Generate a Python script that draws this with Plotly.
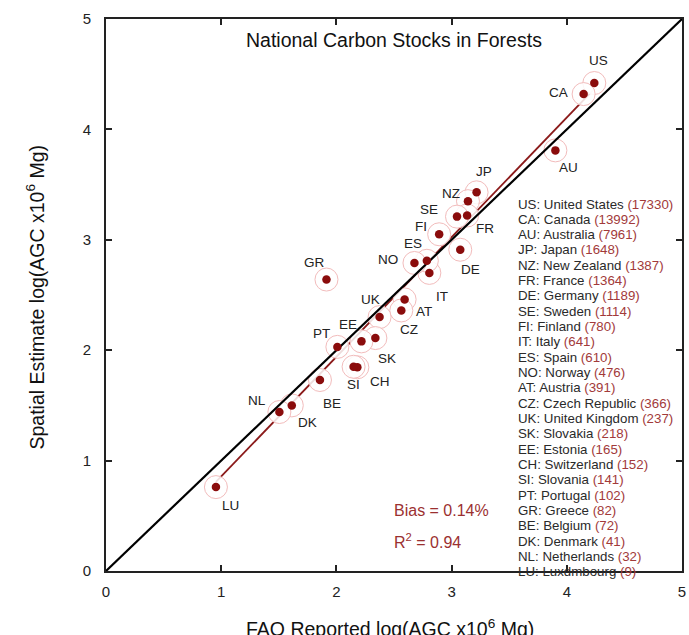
import plotly.graph_objects as go
import numpy as np

# ---- data ----
codes = ["US", "CA", "AU", "JP", "NZ", "FR", "DE", "SE", "FI", "IT", "ES", "NO", "AT",
         "CZ", "UK", "SK", "EE", "CH", "SI", "PT", "GR", "BE", "DK", "NL", "LU"]
names = ["United States", "Canada", "Australia", "Japan", "New Zealand", "France", "Germany",
         "Sweden", "Finland", "Italy", "Spain", "Norway", "Austria", "Czech Republic",
         "United Kingdom", "Slovakia", "Estonia", "Switzerland", "Slovania", "Portugal",
         "Greece", "Belgium", "Denmark", "Netherlands", "Luxdmbourg"]
fao_agc = [17330, 13992, 7961, 1648, 1387, 1364, 1189, 1114, 780, 641, 610, 476, 391,
           366, 237, 218, 165, 152, 141, 102, 82, 72, 41, 32, 9]
spatial_log = [4.42, 4.32, 3.81, 3.43, 3.35, 3.22, 2.91, 3.21, 3.05, 2.70, 2.81, 2.79, 2.46,
               2.36, 2.30, 2.11, 2.08, 1.845, 1.85, 2.03, 2.64, 1.73, 1.50, 1.44, 0.76]
tick_vals = [0, 1, 2, 3, 4, 5]
bias_text = "Bias = 0.14%"
r2_text = "R<sup>2</sup> = 0.94"

# label offsets in pixels (dx right, dy down)
label_offsets = {
    "US": (4, -23), "CA": (-25, -2), "AU": (13, 17), "JP": (7, -21), "NZ": (-17, -8),
    "SE": (-28, -7), "FR": (18, 13), "FI": (-18, -8), "ES": (-14, -17), "NO": (-26, -3),
    "GR": (-12, -17), "DE": (10, 20), "IT": (13, 24), "UK": (-9, -18), "AT": (19, 12),
    "CZ": (8, 19), "EE": (-13, -17), "PT": (-16, -13), "SK": (12, 20), "SI": (0, 18),
    "CH": (23, 14), "BE": (12, 23), "NL": (-22, -12), "DK": (16, 17), "LU": (15, 18),
}

x = np.log10(np.array(fao_agc, dtype=float))
y = np.array(spatial_log)

DARK_RED = "#8a0c0c"
NUM_RED = "#a23a3a"
FONT = "Liberation Sans, Arial, sans-serif"

slope, intercept = np.polyfit(x, y, 1)
xf = np.array([x.min(), x.max()])
yf = slope * xf + intercept

fig = go.Figure()
# regression line
fig.add_trace(go.Scatter(x=xf, y=yf, mode="lines",
                         line=dict(color="#8b1a1a", width=1.8), hoverinfo="skip"))
# halo circles
fig.add_trace(go.Scatter(x=x, y=y, mode="markers",
                         marker=dict(size=23, color="rgba(255,255,255,0.85)",
                                     line=dict(color="#f2bcbc", width=1)),
                         hoverinfo="skip"))
# 1:1 line
fig.add_trace(go.Scatter(x=[tick_vals[0], tick_vals[-1]], y=[tick_vals[0], tick_vals[-1]],
                         mode="lines", line=dict(color="black", width=2.2), hoverinfo="skip"))
# dots
fig.add_trace(go.Scatter(x=x, y=y, mode="markers",
                         marker=dict(size=8.5, color=DARK_RED), hoverinfo="skip"))

annotations = []
for c, xi, yi in zip(codes, x, y):
    dx, dy = label_offsets[c]
    annotations.append(dict(x=xi, y=yi, xref="x", yref="y", text=c, showarrow=False,
                            xanchor="center", yanchor="middle",
                            xshift=dx, yshift=-dy, font=dict(size=13.5, color="#222", family=FONT)))

# country list (paper coordinates: plot area is 552 px tall, top at 19 px)
legend_top_px = 204.0
legend_step_px = 15.32
for i, (c, n, v) in enumerate(zip(codes, names, fao_agc)):
    py = legend_top_px + i * legend_step_px
    annotations.append(dict(x=(519 - 106) / 580, y=1 - (py - 19) / 552, xref="paper", yref="paper",
                            xanchor="left", yanchor="middle", showarrow=False,
                            text=f"{c}: {n} <span style='color:{NUM_RED}'>({v})</span>",
                            font=dict(size=13.3, color="#2a2a2a", family=FONT)))

annotations += [
    dict(x=(396 - 106) / 580, y=1 - (40 - 19) / 552, xref="paper", yref="paper",
         xanchor="center", yanchor="middle", text="National Carbon Stocks in Forests",
         showarrow=False, font=dict(size=19.5, color="#111", family=FONT)),
    dict(x=2.48, y=0.546, xref="x", yref="y", xanchor="left", yanchor="middle",
         text=bias_text, showarrow=False, font=dict(size=16, color="#9b3030", family=FONT)),
    dict(x=2.48, y=0.27, xref="x", yref="y", xanchor="left", yanchor="middle",
         text=r2_text, showarrow=False, font=dict(size=16, color="#9b3030", family=FONT)),
    dict(x=(392 - 106) / 580, y=-(628 - 571) / 552, xref="paper", yref="paper",
         xanchor="center", yanchor="middle",
         text="FAO Reported log(AGC x10<sup>6</sup> Mg)", showarrow=False,
         font=dict(size=19.5, color="#111", family=FONT)),
    dict(x=(35 - 106) / 580, y=1 - (297 - 19) / 552, xref="paper", yref="paper", textangle=-90,
         xanchor="center", yanchor="middle",
         text="Spatial Estimate log(AGC x10<sup>6</sup> Mg)", showarrow=False,
         font=dict(size=19.5, color="#111", family=FONT)),
]

axis_common = dict(range=[0, 5], tickvals=tick_vals, ticks="inside", ticklen=6, tickwidth=1.5,
                   tickcolor="#222", showline=True, linecolor="#222", linewidth=2,
                   mirror="ticks", showgrid=False, zeroline=False,
                   tickfont=dict(size=15, color="#222", family=FONT))

fig.update_layout(
    width=689, height=635,
    margin=dict(l=106, r=3, t=19, b=64),
    paper_bgcolor="white", plot_bgcolor="white",
    showlegend=False,
    xaxis=dict(**axis_common, ticklabelstandoff=6),
    yaxis=dict(**axis_common, ticklabelstandoff=10),
    annotations=annotations,
)

fig.write_html("out.html")
